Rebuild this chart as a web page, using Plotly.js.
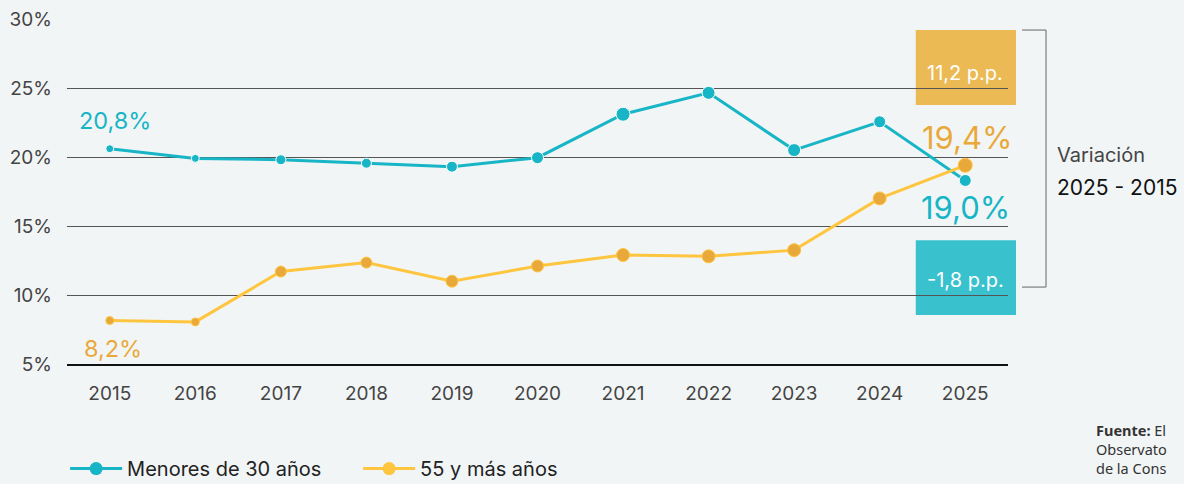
<!DOCTYPE html>
<html>
<head>
<meta charset="utf-8">
<script src="https://cdn.plot.ly/plotly-3.0.1.min.js"></script>
<style>
html,body{margin:0;padding:0;background:#f2f5f6;}
#chart{width:1184px;height:484px;}
</style>
</head>
<body>
<div id="chart"></div>
<script>
const years = [2015, 2016, 2017, 2018, 2019, 2020, 2021, 2022, 2023, 2024, 2025];
const menores30 = [20.6, 19.9, 19.8, 19.55, 19.3, 19.95, 23.1, 24.65, 20.5, 22.55, 18.3];
const mayores55 = [8.15, 8.05, 11.7, 12.35, 11.0, 12.1, 12.9, 12.8, 13.25, 17.0, 19.4];
const seriesNames = ['Menores de 30 años', '55 y más años'];
const yTicks = [5, 10, 15, 20, 25, 30];
const yTickText = ['5%', '10%', '15%', '20%', '25%', '30%'];
const labelMenores = ['20,8%', '19,0%'];
const labelMayores = ['8,2%', '19,4%'];
const variacion = ['11,2 p.p.', '-1,8 p.p.'];

const CYAN = '#17b5c6', CYAN_BOX = '#39c2ce';
const YLINE = '#fec53f', YMARK = '#e9a93a', YBOX = '#ecba55';
const FONT = 'Inter, "Noto Sans", sans-serif';

const sizesA = [8, 8, 10, 10, 11, 12, 14, 13, 13, 12, 12];
const sizesB = [8, 8, 11, 11, 12, 12, 13, 13, 13, 13, 14];

const traces = [
  {x: years, y: menores30, name: seriesNames[0], mode: 'lines+markers', showlegend: false,
   line: {color: CYAN, width: 3}, marker: {color: CYAN, size: sizesA, opacity: 1}},
  {x: years, y: mayores55, name: seriesNames[1], mode: 'lines+markers', showlegend: false,
   line: {color: YLINE, width: 3}, marker: {color: YMARK, size: sizesB, opacity: 1}},
  // legend-only entries
  {x: [null], y: [null], name: seriesNames[0], mode: 'lines+markers', showlegend: true,
   line: {color: CYAN, width: 3}, marker: {color: CYAN, size: 13}},
  {x: [null], y: [null], name: seriesNames[1], mode: 'lines+markers', showlegend: true,
   line: {color: YLINE, width: 3}, marker: {color: YLINE, size: 13}}
];

const layout = {
  width: 1184, height: 484,
  paper_bgcolor: '#f2f5f6', plot_bgcolor: '#f2f5f6',
  font: {family: FONT, color: '#333', size: 17},
  margin: {l: 67, r: 176, t: 19, b: 120, autoexpand: false},
  showlegend: true,
  legend: {orientation: 'h', x: -0.002, xanchor: 'left', y: -0.303, yanchor: 'middle',
           font: {size: 20, color: '#222'}, entrywidth: 226, entrywidthmode: 'pixels',
           bgcolor: 'rgba(0,0,0,0)', itemwidth: 52},
  xaxis: {range: [2014.5, 2025.5], tickvals: years, showgrid: false, zeroline: false,
          showline: true, linecolor: '#111', linewidth: 1.5, ticks: '',
          ticklabelstandoff: 12, tickfont: {size: 19, color: '#444'}},
  yaxis: {range: [5, 30], tickvals: yTicks, ticktext: yTickText, showgrid: true,
          gridcolor: '#555', gridwidth: 1, zeroline: false, showline: false, ticks: '',
          ticklabelstandoff: 14, tickfont: {size: 19, color: '#444'}},
  shapes: [
    {type: 'rect', xref: 'paper', yref: 'paper', x0: 0.902, x1: 1.0085, y0: 0.751, y1: 0.968,
     fillcolor: YBOX, line: {width: 0}, layer: 'below'},
    {type: 'rect', xref: 'paper', yref: 'paper', x0: 0.902, x1: 1.0085, y0: 0.142, y1: 0.359,
     fillcolor: CYAN_BOX, line: {width: 0}, layer: 'below'},
    {type: 'path', xref: 'paper', yref: 'paper',
     path: 'M 1.0149 0.968 L 1.0404 0.968 L 1.0404 0.223 L 1.0149 0.223',
     line: {color: '#666', width: 1}}
  ],
  annotations: [
    {xref: 'x', yref: 'paper', x: years[0], y: (364 - 121) / 345, text: labelMenores[0],
     showarrow: false, xanchor: 'center', yanchor: 'middle', xshift: 5,
     font: {size: 23.5, color: CYAN}},
    {xref: 'x', yref: 'paper', x: years[0], y: (364 - 348) / 345, text: labelMayores[0],
     showarrow: false, xanchor: 'center', yanchor: 'middle', xshift: 3,
     font: {size: 23.5, color: YMARK}},
    {xref: 'x', yref: 'paper', x: years[10], y: (364 - 137) / 345, text: labelMayores[1],
     showarrow: false, xanchor: 'center', yanchor: 'middle', xshift: 2,
     font: {size: 31, color: YMARK}},
    {xref: 'x', yref: 'paper', x: years[10], y: (364 - 207) / 345, text: labelMenores[1],
     showarrow: false, xanchor: 'center', yanchor: 'middle', xshift: 0,
     font: {size: 31, color: CYAN}},
    {xref: 'paper', yref: 'paper', x: 0.9545, y: (364 - 73) / 345, text: variacion[0],
     showarrow: false, xanchor: 'center', yanchor: 'middle', font: {size: 20, color: '#fff'}},
    {xref: 'paper', yref: 'paper', x: 0.9545, y: (364 - 280) / 345, text: variacion[1],
     showarrow: false, xanchor: 'center', yanchor: 'middle', font: {size: 20, color: '#fff'}},
    {xref: 'paper', yref: 'paper', x: (1055 - 67) / 941, y: (364 - 155) / 345, text: 'Variación',
     showarrow: false, xanchor: 'left', yanchor: 'middle', font: {size: 20, color: '#444'}},
    {xref: 'paper', yref: 'paper', x: (1055 - 67) / 941, y: (364 - 187) / 345, text: '2025 - 2015',
     showarrow: false, xanchor: 'left', yanchor: 'middle', font: {size: 21, color: '#111'}},
    {xref: 'paper', yref: 'paper', x: (1094 - 67) / 941, y: (364 - 449) / 345,
     text: '<b>Fuente:</b> El<br>Observato<br>de la Cons',
     showarrow: false, xanchor: 'left', yanchor: 'middle', align: 'left',
     font: {size: 14.5, color: '#333', family: '"Noto Sans", sans-serif'}}
  ]
};

Plotly.newPlot('chart', traces, layout, {displayModeBar: false, staticPlot: true});
</script>
</body>
</html>
